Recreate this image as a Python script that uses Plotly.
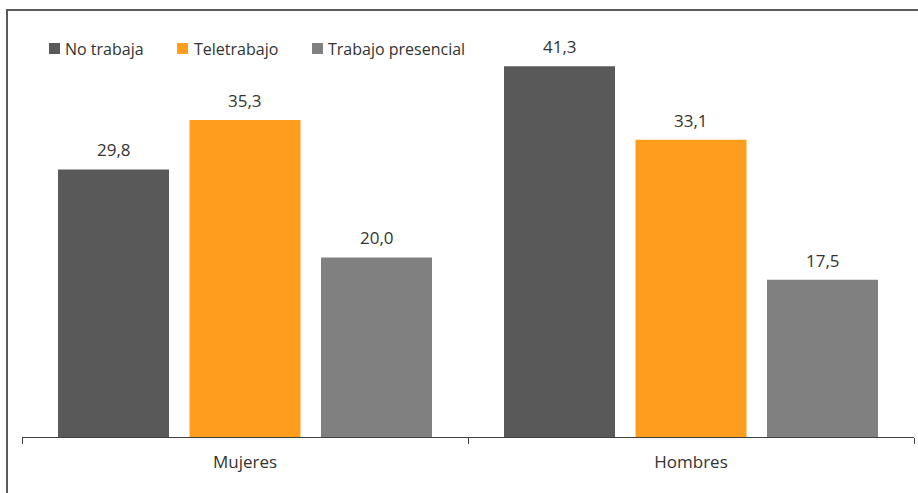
import plotly.graph_objects as go

# Data
categories = ["Mujeres", "Hombres"]
series_names = ["No trabaja", "Teletrabajo", "Trabajo presencial"]
no_trabaja = [29.8, 41.3]
teletrabajo = [35.3, 33.1]
presencial = [20.0, 17.5]
series_values = [no_trabaja, teletrabajo, presencial]
colors = ["#595959", "#FF9E1E", "#808080"]

W, H = 918, 493
ML, MR, MT, MB = 22, 4, 20, 56
plot_w = W - ML - MR
plot_h = H - MT - MB
BARGAP = 0.1155
BARGROUPGAP = 0.156
YMAX = plot_h / 8.98

FONT = "Open Sans"
TXT = "#333333"

def fmt(v):
    return f"{v:.1f}".replace(".", ",")

fig = go.Figure()
for name, vals, col in zip(series_names, series_values, colors):
    fig.add_trace(go.Bar(
        x=list(range(len(categories))), y=vals, name=name,
        marker=dict(color=col, line=dict(width=0)),
        showlegend=False, hoverinfo="skip",
    ))

# value labels above each bar
slot = (1 - BARGAP) / len(series_names)
annotations = []
for i, vals in enumerate(series_values):
    off = (i - (len(series_names) - 1) / 2) * slot
    for c, v in enumerate(vals):
        annotations.append(dict(
            x=c + off, y=v, xref="x", yref="y", text=fmt(v),
            showarrow=False, yanchor="bottom", yshift=6,
            font=dict(family=FONT, size=17, color=TXT),
        ))

# legend drawn as squares + labels along the top-left
def px_to_paper_x(px):
    return (px - ML) / plot_w

def px_to_paper_y(py):
    return (H - MB - py) / plot_h

legend_sq_x = [49, 177, 312]
legend_txt_x = [63, 192, 326]
shapes = []
for name, col, sx, tx in zip(series_names, colors, legend_sq_x, legend_txt_x):
    shapes.append(dict(
        type="rect", xref="paper", yref="paper",
        x0=px_to_paper_x(sx), x1=px_to_paper_x(sx + 11),
        y0=px_to_paper_y(54), y1=px_to_paper_y(43),
        fillcolor=col, line=dict(width=0),
    ))
    annotations.append(dict(
        x=px_to_paper_x(tx), y=px_to_paper_y(48.5), xref="paper", yref="paper",
        text=name, showarrow=False, xanchor="left", yanchor="middle",
        font=dict(family=FONT, size=16, color=TXT),
    ))

# chart frame
shapes.append(dict(
    type="rect", xref="paper", yref="paper",
    x0=px_to_paper_x(7), x1=px_to_paper_x(W + 20),
    y0=px_to_paper_y(H + 20), y1=px_to_paper_y(10),
    line=dict(color="#595959", width=2), fillcolor="rgba(0,0,0,0)",
    layer="below",
))

fig.update_layout(
    width=W, height=H,
    margin=dict(l=ML, r=MR, t=MT, b=MB),
    paper_bgcolor="white", plot_bgcolor="white",
    barmode="group", bargap=BARGAP, bargroupgap=BARGROUPGAP,
    font=dict(family=FONT, size=16, color=TXT),
    annotations=annotations, shapes=shapes,
    xaxis=dict(
        type="category", tickmode="array",
        tickvals=list(range(len(categories))), ticktext=categories,
        tickson="boundaries", ticks="outside", ticklen=6,
        tickcolor="#404040", showline=True, linecolor="#404040", linewidth=1,
        showgrid=False, zeroline=False, ticklabelstandoff=10,
        tickfont=dict(family=FONT, size=17, color=TXT),
        range=[-0.5, len(categories) - 0.5],
    ),
    yaxis=dict(range=[0, YMAX], visible=False, showgrid=False, zeroline=False),
)

fig.write_html("out.html")
